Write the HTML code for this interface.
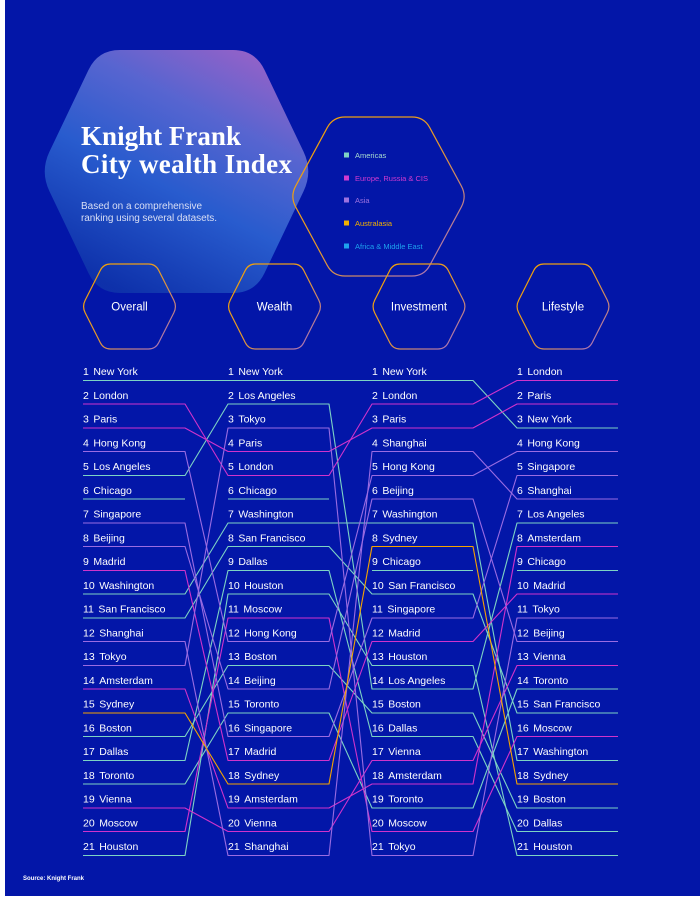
<!DOCTYPE html>
<html>
<head>
<meta charset="utf-8">
<style>
html,body{margin:0;padding:0;background:#ffffff;}
body{width:700px;height:901px;overflow:hidden;position:relative;}
svg{position:absolute;left:0;top:0;display:block;}
text{font-family:"Liberation Sans", Arial, sans-serif;}
</style>
</head>
<body>
<svg width="700" height="901" viewBox="0 0 700 901" xmlns="http://www.w3.org/2000/svg">
  <defs>
    <linearGradient id="bigg" x1="0.85" y1="0" x2="0.3" y2="1">
      <stop offset="0" stop-color="#a365c9"/>
      <stop offset="0.3" stop-color="#5c69d2"/>
      <stop offset="0.6" stop-color="#2a5fd0"/>
      <stop offset="1" stop-color="#0e32aa"/>
    </linearGradient>
    <linearGradient id="strk" x1="0" y1="0" x2="1" y2="1">
      <stop offset="0" stop-color="#f5a300"/>
      <stop offset="0.5" stop-color="#e69a2a"/>
      <stop offset="1" stop-color="#9c6cd8"/>
    </linearGradient>
    <path id="hexS" d="M -44.34 6.25 Q -47.5 0 -44.34 -6.25 L -29.16 -36.25 Q -26 -42.5 -19 -42.5 L 19 -42.5 Q 26 -42.5 29.16 -36.25 L 44.34 -6.25 Q 47.5 0 44.34 6.25 L 29.16 36.25 Q 26 42.5 19 42.5 L -19 42.5 Q -26 42.5 -29.16 36.25 Z"/>
  </defs>

  <!-- background -->
  <rect x="5" y="0" width="695" height="896" fill="#0316a8"/>

  <!-- big gradient hexagon -->
  <path transform="translate(176.5,171.5)" fill="url(#bigg)" opacity="0.95"
        d="M -127.02 19.86 Q -136.5 0 -127.02 -19.86 L -87.98 -101.64 Q -78.5 -121.5 -56.5 -121.5 L 56.5 -121.5 Q 78.5 -121.5 87.98 -101.64 L 127.02 -19.86 Q 136.5 0 127.02 19.86 L 87.98 101.64 Q 78.5 121.5 56.5 121.5 L -56.5 121.5 Q -78.5 121.5 -87.98 101.64 Z"/>

  <!-- title -->
  <text x="81" y="145" fill="#ffffff" font-family="Liberation Serif, serif" font-weight="bold" font-size="27" textLength="160" style="font-family:'Liberation Serif',serif">Knight Frank</text>
  <text x="81" y="173" fill="#ffffff" font-family="Liberation Serif, serif" font-weight="bold" font-size="27" textLength="211" style="font-family:'Liberation Serif',serif">City wealth Index</text>
  <text x="81" y="209" fill="#d9dff5" font-size="10" textLength="121">Based on a comprehensive</text>
  <text x="81" y="221" fill="#d9dff5" font-size="10" textLength="136">ranking using several datasets.</text>

  <!-- legend hexagon -->
  <path transform="translate(378.5,196.5)" fill="none" stroke="url(#strk)" stroke-width="1.2"
        d="M -82.79 10.55 Q -88.5 0 -82.79 -10.55 L -51.21 -68.95 Q -45.5 -79.5 -33.5 -79.5 L 33.5 -79.5 Q 45.5 -79.5 51.21 -68.95 L 82.79 -10.55 Q 88.5 0 82.79 10.55 L 51.21 68.95 Q 45.5 79.5 33.5 79.5 L -33.5 79.5 Q -45.5 79.5 -51.21 68.95 Z"/>
  <rect x="344" y="152.5" width="5" height="5" fill="#7fd3c4"/>
  <text x="355" y="158" fill="#a9dccf" font-size="7.5">Americas</text>
  <rect x="344" y="175.5" width="5" height="5" fill="#d23ad0"/>
  <text x="355" y="181" fill="#d23ad0" font-size="7.5">Europe, Russia &amp; CIS</text>
  <rect x="344" y="197.5" width="5" height="5" fill="#9d72e0"/>
  <text x="355" y="203" fill="#9d72e0" font-size="7.5">Asia</text>
  <rect x="344" y="220.5" width="5" height="5" fill="#f3b100"/>
  <text x="355" y="226" fill="#f3b100" font-size="7.5">Australasia</text>
  <rect x="344" y="243.5" width="5" height="5" fill="#1ea2ee"/>
  <text x="355" y="249" fill="#1ea2ee" font-size="7.5">Africa &amp; Middle East</text>

  <!-- column header hexagons -->
  <use href="#hexS" transform="translate(129.5,306.5)" fill="none" stroke="url(#strk)" stroke-width="1.2"/>
  <use href="#hexS" transform="translate(274.5,306.5)" fill="none" stroke="url(#strk)" stroke-width="1.2"/>
  <use href="#hexS" transform="translate(419,306.5)" fill="none" stroke="url(#strk)" stroke-width="1.2"/>
  <use href="#hexS" transform="translate(563,306.5)" fill="none" stroke="url(#strk)" stroke-width="1.2"/>
  <g fill="#ffffff" font-size="11.5" text-anchor="middle">
    <text x="129.5" y="310.5">Overall</text>
    <text x="274.5" y="310.5">Wealth</text>
    <text x="419" y="310.5">Investment</text>
    <text x="563" y="310.5">Lifestyle</text>
  </g>

  <!-- connecting lines -->
  <g fill="none" stroke-width="1.1" stroke-linejoin="round">
    <!-- Americas -->
    <g stroke="#7dd3c4">
      <path d="M83 380.5 H185 L228 380.5 H329 L372 380.5 H473 L517 428 H618"/>
      <path d="M83 475.5 H185 L228 404 H329 L372 689 H473 L517 523 H618"/>
      <path d="M83 499 H185 M228 499 H329 M372 570.5 H473 M517 570.5 H618"/>
      <path d="M83 594 H185 L228 523 H329 L372 523 H473 L517 760.5 H618"/>
      <path d="M83 618 H185 L228 546.5 H329 L372 594 H473 L517 713 H618"/>
      <path d="M83 736.5 H185 L228 665.5 H329 L372 713 H473 L517 808 H618"/>
      <path d="M83 760.5 H185 L228 570.5 H329 L372 736.5 H473 L517 831.5 H618"/>
      <path d="M83 784 H185 L228 713 H329 L372 808 H473 L517 689 H618"/>
      <path d="M83 855.5 H185 L228 594 H329 L372 665.5 H473 L517 855.5 H618"/>
    </g>
    <!-- Europe -->
    <g stroke="#d033cb">
      <path d="M83 404 H185 L228 475.5 H329 L372 404 H473 L517 380.5 H618"/>
      <path d="M83 428 H185 L228 451.5 H329 L372 428 H473 L517 404 H618"/>
      <path d="M83 570.5 H185 L228 760.5 H329 L372 641.5 H473 L517 594 H618"/>
      <path d="M83 689 H185 L228 808 H329 L372 784 H473 L517 546.5 H618"/>
      <path d="M83 808 H185 L228 831.5 H329 L372 760.5 H473 L517 665.5 H618"/>
      <path d="M83 831.5 H185 L228 618 H329 L372 831.5 H473 L517 736.5 H618"/>
    </g>
    <!-- Asia -->
    <g stroke="#9a6ce2">
      <path d="M83 451.5 H185 L228 641.5 H329 L372 475.5 H473 L517 451.5 H618"/>
      <path d="M83 523 H185 L228 736.5 H329 L372 618 H473 L517 475.5 H618"/>
      <path d="M83 546.5 H185 L228 689 H329 L372 499 H473 L517 641.5 H618"/>
      <path d="M83 641.5 H185 L228 855.5 H329 L372 451.5 H473 L517 499 H618"/>
      <path d="M83 665.5 H185 L228 428 H329 L372 855.5 H473 L517 618 H618"/>
    </g>
    <!-- Australasia -->
    <g stroke="#f5a300">
      <path d="M83 713 H185 L228 784 H329 L372 546.5 H473 L517 784 H618"/>
    </g>
  </g>

  <!-- Overall column -->
  <g fill="#ffffff" font-size="10.5">
    <text x="83" y="375">1<tspan dx="4.5">New York</tspan></text>
    <text x="83" y="398.75">2<tspan dx="4.5">London</tspan></text>
    <text x="83" y="422.5">3<tspan dx="4.5">Paris</tspan></text>
    <text x="83" y="446.25">4<tspan dx="4.5">Hong Kong</tspan></text>
    <text x="83" y="470">5<tspan dx="4.5">Los Angeles</tspan></text>
    <text x="83" y="493.75">6<tspan dx="4.5">Chicago</tspan></text>
    <text x="83" y="517.5">7<tspan dx="4.5">Singapore</tspan></text>
    <text x="83" y="541.25">8<tspan dx="4.5">Beijing</tspan></text>
    <text x="83" y="565">9<tspan dx="4.5">Madrid</tspan></text>
    <text x="83" y="588.75">10<tspan dx="4.5">Washington</tspan></text>
    <text x="83" y="612.5">11<tspan dx="4.5">San Francisco</tspan></text>
    <text x="83" y="636.25">12<tspan dx="4.5">Shanghai</tspan></text>
    <text x="83" y="660">13<tspan dx="4.5">Tokyo</tspan></text>
    <text x="83" y="683.75">14<tspan dx="4.5">Amsterdam</tspan></text>
    <text x="83" y="707.5">15<tspan dx="4.5">Sydney</tspan></text>
    <text x="83" y="731.25">16<tspan dx="4.5">Boston</tspan></text>
    <text x="83" y="755">17<tspan dx="4.5">Dallas</tspan></text>
    <text x="83" y="778.75">18<tspan dx="4.5">Toronto</tspan></text>
    <text x="83" y="802.5">19<tspan dx="4.5">Vienna</tspan></text>
    <text x="83" y="826.25">20<tspan dx="4.5">Moscow</tspan></text>
    <text x="83" y="850">21<tspan dx="4.5">Houston</tspan></text>
  </g>

  <!-- Wealth column -->
  <g fill="#ffffff" font-size="10.5">
    <text x="228" y="375">1<tspan dx="4.5">New York</tspan></text>
    <text x="228" y="398.75">2<tspan dx="4.5">Los Angeles</tspan></text>
    <text x="228" y="422.5">3<tspan dx="4.5">Tokyo</tspan></text>
    <text x="228" y="446.25">4<tspan dx="4.5">Paris</tspan></text>
    <text x="228" y="470">5<tspan dx="4.5">London</tspan></text>
    <text x="228" y="493.75">6<tspan dx="4.5">Chicago</tspan></text>
    <text x="228" y="517.5">7<tspan dx="4.5">Washington</tspan></text>
    <text x="228" y="541.25">8<tspan dx="4.5">San Francisco</tspan></text>
    <text x="228" y="565">9<tspan dx="4.5">Dallas</tspan></text>
    <text x="228" y="588.75">10<tspan dx="4.5">Houston</tspan></text>
    <text x="228" y="612.5">11<tspan dx="4.5">Moscow</tspan></text>
    <text x="228" y="636.25">12<tspan dx="4.5">Hong Kong</tspan></text>
    <text x="228" y="660">13<tspan dx="4.5">Boston</tspan></text>
    <text x="228" y="683.75">14<tspan dx="4.5">Beijing</tspan></text>
    <text x="228" y="707.5">15<tspan dx="4.5">Toronto</tspan></text>
    <text x="228" y="731.25">16<tspan dx="4.5">Singapore</tspan></text>
    <text x="228" y="755">17<tspan dx="4.5">Madrid</tspan></text>
    <text x="228" y="778.75">18<tspan dx="4.5">Sydney</tspan></text>
    <text x="228" y="802.5">19<tspan dx="4.5">Amsterdam</tspan></text>
    <text x="228" y="826.25">20<tspan dx="4.5">Vienna</tspan></text>
    <text x="228" y="850">21<tspan dx="4.5">Shanghai</tspan></text>
  </g>

  <!-- Investment column -->
  <g fill="#ffffff" font-size="10.5">
    <text x="372" y="375">1<tspan dx="4.5">New York</tspan></text>
    <text x="372" y="398.75">2<tspan dx="4.5">London</tspan></text>
    <text x="372" y="422.5">3<tspan dx="4.5">Paris</tspan></text>
    <text x="372" y="446.25">4<tspan dx="4.5">Shanghai</tspan></text>
    <text x="372" y="470">5<tspan dx="4.5">Hong Kong</tspan></text>
    <text x="372" y="493.75">6<tspan dx="4.5">Beijing</tspan></text>
    <text x="372" y="517.5">7<tspan dx="4.5">Washington</tspan></text>
    <text x="372" y="541.25">8<tspan dx="4.5">Sydney</tspan></text>
    <text x="372" y="565">9<tspan dx="4.5">Chicago</tspan></text>
    <text x="372" y="588.75">10<tspan dx="4.5">San Francisco</tspan></text>
    <text x="372" y="612.5">11<tspan dx="4.5">Singapore</tspan></text>
    <text x="372" y="636.25">12<tspan dx="4.5">Madrid</tspan></text>
    <text x="372" y="660">13<tspan dx="4.5">Houston</tspan></text>
    <text x="372" y="683.75">14<tspan dx="4.5">Los Angeles</tspan></text>
    <text x="372" y="707.5">15<tspan dx="4.5">Boston</tspan></text>
    <text x="372" y="731.25">16<tspan dx="4.5">Dallas</tspan></text>
    <text x="372" y="755">17<tspan dx="4.5">Vienna</tspan></text>
    <text x="372" y="778.75">18<tspan dx="4.5">Amsterdam</tspan></text>
    <text x="372" y="802.5">19<tspan dx="4.5">Toronto</tspan></text>
    <text x="372" y="826.25">20<tspan dx="4.5">Moscow</tspan></text>
    <text x="372" y="850">21<tspan dx="4.5">Tokyo</tspan></text>
  </g>

  <!-- Lifestyle column -->
  <g fill="#ffffff" font-size="10.5">
    <text x="517" y="375">1<tspan dx="4.5">London</tspan></text>
    <text x="517" y="398.75">2<tspan dx="4.5">Paris</tspan></text>
    <text x="517" y="422.5">3<tspan dx="4.5">New York</tspan></text>
    <text x="517" y="446.25">4<tspan dx="4.5">Hong Kong</tspan></text>
    <text x="517" y="470">5<tspan dx="4.5">Singapore</tspan></text>
    <text x="517" y="493.75">6<tspan dx="4.5">Shanghai</tspan></text>
    <text x="517" y="517.5">7<tspan dx="4.5">Los Angeles</tspan></text>
    <text x="517" y="541.25">8<tspan dx="4.5">Amsterdam</tspan></text>
    <text x="517" y="565">9<tspan dx="4.5">Chicago</tspan></text>
    <text x="517" y="588.75">10<tspan dx="4.5">Madrid</tspan></text>
    <text x="517" y="612.5">11<tspan dx="4.5">Tokyo</tspan></text>
    <text x="517" y="636.25">12<tspan dx="4.5">Beijing</tspan></text>
    <text x="517" y="660">13<tspan dx="4.5">Vienna</tspan></text>
    <text x="517" y="683.75">14<tspan dx="4.5">Toronto</tspan></text>
    <text x="517" y="707.5">15<tspan dx="4.5">San Francisco</tspan></text>
    <text x="517" y="731.25">16<tspan dx="4.5">Moscow</tspan></text>
    <text x="517" y="755">17<tspan dx="4.5">Washington</tspan></text>
    <text x="517" y="778.75">18<tspan dx="4.5">Sydney</tspan></text>
    <text x="517" y="802.5">19<tspan dx="4.5">Boston</tspan></text>
    <text x="517" y="826.25">20<tspan dx="4.5">Dallas</tspan></text>
    <text x="517" y="850">21<tspan dx="4.5">Houston</tspan></text>
  </g>

  <!-- source -->
  <text x="23" y="880" fill="#ffffff" font-size="6" font-weight="bold">Source: Knight Frank</text>
</svg>
</body>
</html>
